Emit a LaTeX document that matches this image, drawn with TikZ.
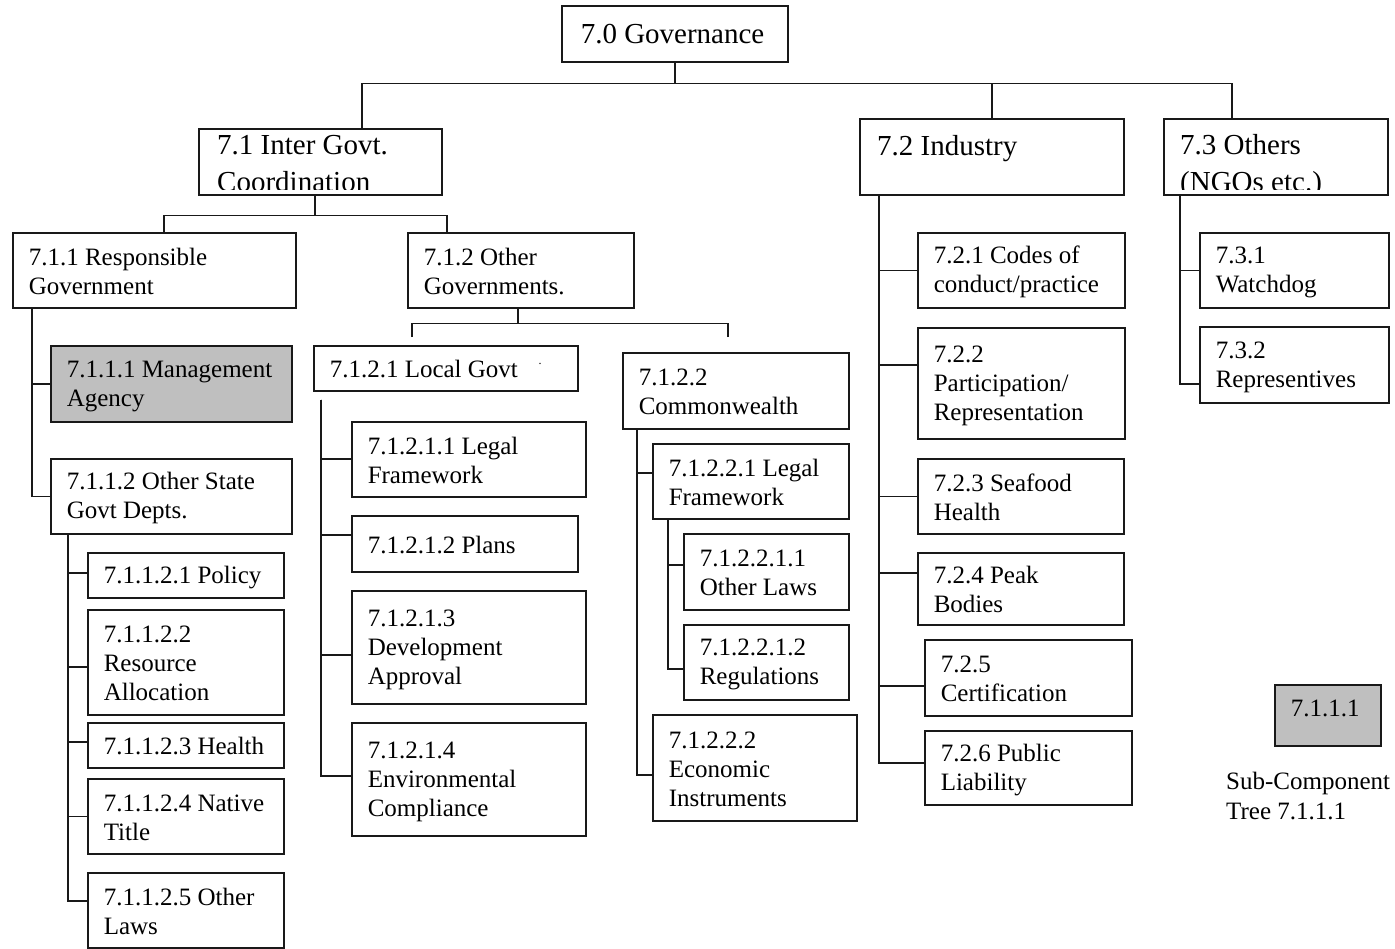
\documentclass[tikz,border=0pt]{standalone}
\usepackage{fontspec}
\setmainfont{Liberation Serif}
% struts so that every box centres its lines the same way
\newcommand\wbstop{\rule{0pt}{21.5pt}}
\newcommand\wbsbot{\rule[-2.5pt]{0pt}{2.5pt}}
% \wbsbox[style]{name}{x1}{y1}{x2}{y2}{padding}{text}
\newcommand\wbsbox[8][]{%
  \pgfmathsetmacro\wbsw{#5-#3}%
  \pgfmathsetmacro\wbsh{#6-#4}%
  \pgfmathsetmacro\wbstw{#5-#3-2*#7}%
  \node[box,#1,inner xsep=#7pt,minimum width=\wbsw pt,minimum height=\wbsh pt,text width=\wbstw pt] (#2) at (#3,#4) {#8};}
\tikzset{
  box/.style={draw=black!90, line width=1.5pt, rectangle, anchor=north west,
    inner ysep=0pt, align=flush left, font=\fontsize{25}{29}\selectfont,
    execute at begin node=\wbstop, execute at end node=\wbsbot},
  hdr/.style={font=\fontsize{29}{36}\selectfont},
  agency/.style={fill=black!25},
  lbl/.style={inner sep=0pt, anchor=base west, font=\fontsize{29}{36}\selectfont},
  link/.style={draw=black!90, line width=1.5pt},
}
\begin{document}
\begin{tikzpicture}[x=1pt,y=-1pt]
\useasboundingbox (0,0) rectangle (1395,948);

% ---- level 0 and 1
\wbsbox[hdr]{n70}{561}{5}{787}{61}{19}{7.0 Governance}
\wbsbox[hdr]{n71}{198}{128}{441}{194}{19}{}
\wbsbox[hdr]{n72}{859}{118}{1123}{194}{18}{}
\wbsbox[hdr]{n73}{1163}{118}{1387}{194}{17}{}
\node[lbl] (t72) at (877,155) {7.2 Industry};
\begin{scope}
  \clip (n71.north west) rectangle ([yshift=6pt]n71.south east);
  \node[lbl] (t71a) at (217,154) {7.1 Inter Govt.};
  \node[lbl] (t71b) at (217,191) {Coordination};
\end{scope}
\begin{scope}
  \clip (n73.north west) rectangle ([yshift=6pt]n73.south east);
  \node[lbl] (t73a) at (1180,154) {7.3 Others};
  \node[lbl] (t73b) at (1180,191) {(NGOs etc.)};
\end{scope}

% ---- 7.1 branch
\wbsbox{n711}{12}{232}{295}{307}{16}{7.1.1 Responsible\\Government}
\wbsbox{n712}{407}{232}{633}{307}{16}{7.1.2 Other\\Governments.}
\wbsbox[agency]{n7111}{50}{345}{291}{421}{16}{7.1.1.1 Management\\Agency}
\wbsbox{n7112}{50}{458}{291}{533}{16}{7.1.1.2 Other State\\Govt Depts.}
\wbsbox{n71121}{87}{552}{283}{597}{16}{7.1.1.2.1 Policy}
\wbsbox{n71122}{87}{609}{283}{714}{16}{7.1.1.2.2\\Resource\\Allocation}
\wbsbox{n71123}{87}{722}{283}{767}{16}{7.1.1.2.3 Health}
\wbsbox{n71124}{87}{778}{283}{853}{16}{7.1.1.2.4 Native\\Title}
\wbsbox{n71125}{87}{872}{283}{947}{16}{7.1.1.2.5 Other\\Laws}
\wbsbox{n7121}{313}{345}{577}{390}{16}{7.1.2.1 Local Govt}
\node[inner sep=0pt, font=\fontsize{12}{12}\selectfont] (dot) at (540,364) {.};
\wbsbox{n71211}{351}{421}{585}{496}{16}{7.1.2.1.1 Legal\\Framework}
\wbsbox{n71212}{351}{515}{577}{571}{16}{7.1.2.1.2 Plans}
\wbsbox{n71213}{351}{590}{585}{703}{16}{7.1.2.1.3\\Development\\Approval}
\wbsbox{n71214}{351}{722}{585}{835}{16}{7.1.2.1.4\\Environmental\\Compliance}
\wbsbox{n7122}{622}{352}{848}{428}{16}{7.1.2.2\\Commonwealth}
\wbsbox{n71221}{652}{443}{848}{518}{16}{7.1.2.2.1 Legal\\Framework}
\wbsbox{n712211}{683}{533}{848}{609}{16}{7.1.2.2.1.1\\Other Laws}
\wbsbox{n712212}{683}{624}{848}{699}{16}{7.1.2.2.1.2\\Regulations}
\wbsbox{n71222}{652}{714}{856}{820}{16}{7.1.2.2.2\\Economic\\Instruments}

% ---- 7.2 branch
\wbsbox{n721}{917}{232}{1124}{307}{16}{7.2.1 Codes of\\conduct/practice}
\wbsbox{n722}{917}{327}{1124}{438}{16}{7.2.2\\Participation/\\Representation}
\wbsbox{n723}{917}{458}{1123}{533}{16}{7.2.3 Seafood\\Health}
\wbsbox{n724}{917}{552}{1123}{624}{16}{7.2.4 Peak\\Bodies}
\wbsbox{n725}{924}{639}{1131}{715}{16}{7.2.5\\Certification}
\wbsbox{n726}{924}{730}{1131}{804}{16}{7.2.6 Public\\Liability}

% ---- 7.3 branch
\wbsbox{n731}{1199}{232}{1388}{307}{16}{7.3.1\\Watchdog}
\wbsbox{n732}{1199}{326}{1388}{402}{16}{7.3.2\\Representives}

% ---- key
\wbsbox[agency,text height=17pt,text depth=15pt]{key}{1274}{684}{1380}{745}{16}{7.1.1.1}
\node[anchor=north west, inner sep=0pt, align=flush left, font=\fontsize{25}{30}\selectfont]
  (keycap) at (1226,772) {Sub-Component\\Tree 7.1.1.1};

% ---- connectors
\coordinate (bus0) at ([yshift=-21pt]n70.south);
\draw[link] (n70.south) -- (bus0);
\draw[link] ([xshift=41.5pt]n71.north) |- (bus0);
\draw[link] (n72.north) |- (bus0);
\draw[link] ([xshift=-44pt]n73.north) |- (bus0);

\coordinate (bus71) at ([xshift=-5.5pt,yshift=-20pt]n71.south);
\draw[link] ([xshift=-5.5pt]n71.south) -- (bus71);
\draw[link] ([xshift=9.5pt]n711.north) |- (bus71);
\draw[link] ([xshift=-74pt]n712.north) |- (bus71);

\coordinate (bus712) at ([xshift=-3pt,yshift=-15pt]n712.south);
\draw[link] ([xshift=-3pt]n712.south) -- (bus712);
\coordinate (tap7121) at ([xshift=99pt,yshift=8pt]n7121.north west);
\coordinate (tap7122) at ([xshift=106pt,yshift=15pt]n7122.north west);
\draw[link] (tap7121) |- (bus712);
\draw[link] (tap7122) |- (bus712);

\draw[link] ([xshift=20pt]n711.south west) |- (n7112.west);
\draw[link] ([xshift=20pt]n711.south west) |- (n7111.west);

\foreach \c/\s in {n71125/9.5, n71121/2.5, n71122/-4.5, n71123/3.5, n71124/0}
  \draw[link] ([xshift=18pt]n7112.south west) |- ([yshift=\s pt]\c.west);

\coordinate (top7121) at ([xshift=8pt,yshift=-8pt]n7121.south west);
\foreach \c/\s in {n71214/3.5, n71211/0.5, n71212/9, n71213/-7.5}
  \draw[link] (top7121) |- ([yshift=\s pt]\c.west);

\foreach \c/\s in {n71222/-7, n71221/8.5}
  \draw[link] ([xshift=15pt]n7122.south west) |- ([yshift=\s pt]\c.west);
\foreach \c/\s in {n712212/-6.5, n712211/7}
  \draw[link] ([xshift=16pt]n71221.south west) |- ([yshift=\s pt]\c.west);

\foreach \c/\s in {n726/5, n721/0, n722/18.5, n723/0, n724/16, n725/-8}
  \draw[link] ([xshift=20pt]n72.south west) |- ([yshift=\s pt]\c.west);

\foreach \c/\s in {n732/-19, n731/0}
  \draw[link] ([xshift=17pt]n73.south west) |- ([yshift=\s pt]\c.west);
\end{tikzpicture}
\end{document}
